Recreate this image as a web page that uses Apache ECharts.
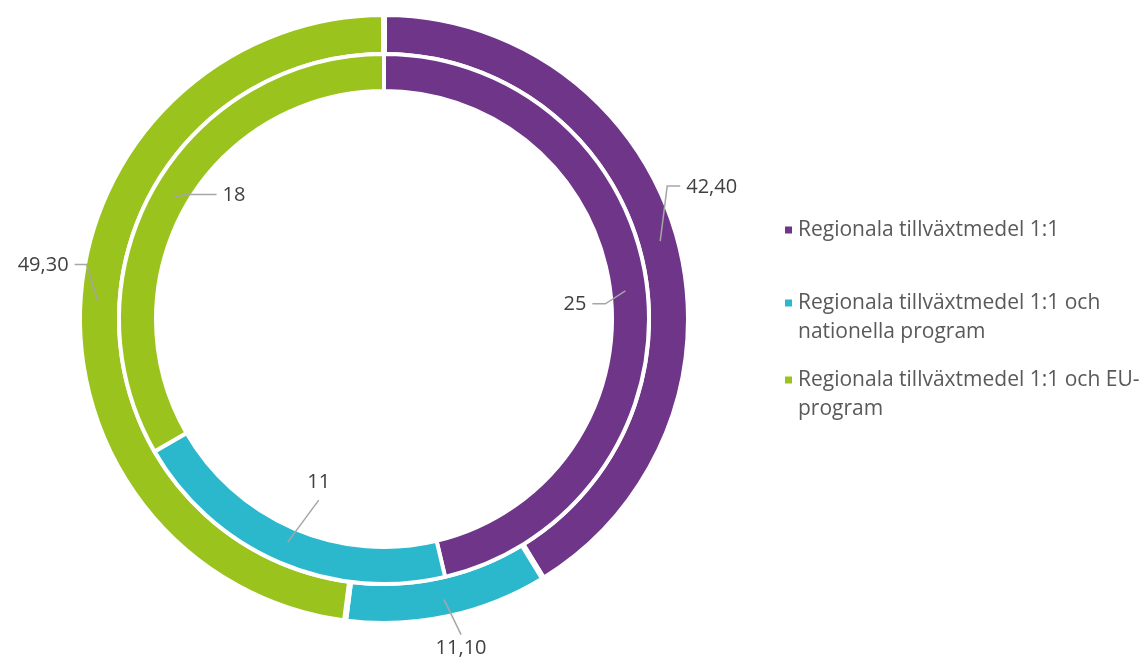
<!DOCTYPE html>
<html>
<head>
<meta charset="utf-8">
<script src="https://cdn.jsdelivr.net/npm/echarts@6/dist/echarts.min.js"></script>
<style>
    html, body { margin: 0; padding: 0; background: #fff; }
    #chart { width: 1145px; height: 662px; }
</style>
</head>
<body>
<div id="chart"></div>
<script>
    // data
    var categories = [
        'Regionala tillväxtmedel 1:1',
        'Regionala tillväxtmedel 1:1 och nationella program',
        'Regionala tillväxtmedel 1:1 och EU-program'
    ];
    // leading blank line keeps the marker level with the first text line
    var legendLabels = [
        'Regionala tillväxtmedel 1:1',
        ' \nRegionala tillväxtmedel 1:1 och\nnationella program',
        ' \nRegionala tillväxtmedel 1:1 och EU-\nprogram'
    ];
    var outerValues = [42.40, 11.10, 49.30];
    var innerValues = [25, 11, 18];
    var colors = ['#6E3589', '#2CB8CC', '#9BC31E'];

    // layout
    var CX = 384, CY = 319;
    var OUTER_R = [264, 305], INNER_R = [228, 265];
    var labelFont = 'Open Sans';
    // leader line shape per slice: bend offset, tail offset, label side
    var outerGuides = [
        {bend: [7, -55], tail: [13, 0], side: 'right'},
        {bend: [17, 35], tail: [0, 0], side: 'below'},
        {bend: [-11, -36], tail: [-12, 0], side: 'left'}
    ];
    var innerGuides = [
        {bend: [-20, 13], tail: [-13, 0], side: 'left'},
        {bend: [31, -42], tail: [0, 0], side: 'above'},
        {bend: [12, -3], tail: [31, 0], side: 'right'}
    ];

    function midAngles(vals) {
        var sum = vals.reduce(function (a, b) { return a + b; }, 0);
        var acc = 0;
        return vals.map(function (v) {
            var a = (acc + v / 2) / sum * Math.PI * 2;
            acc += v;
            return a;
        });
    }

    function makeLayout(vals, r, guides) {
        var angles = midAngles(vals);
        return function (params) {
            var i = params.dataIndex;
            var g = guides[i];
            var p0 = [CX + r * Math.sin(angles[i]), CY - r * Math.cos(angles[i])];
            var p1 = [p0[0] + g.bend[0], p0[1] + g.bend[1]];
            var p2 = [p1[0] + g.tail[0], p1[1] + g.tail[1]];
            var res = {labelLinePoints: [p0, p1, p2]};
            if (g.side === 'right') {
                res.x = p2[0] + 6; res.y = p2[1] + 1; res.align = 'left'; res.verticalAlign = 'middle';
            } else if (g.side === 'left') {
                res.x = p2[0] - 6; res.y = p2[1] + 1; res.align = 'right'; res.verticalAlign = 'middle';
            } else if (g.side === 'below') {
                res.x = p2[0]; res.y = p2[1] + 4; res.align = 'center'; res.verticalAlign = 'top';
            } else {
                res.x = p2[0]; res.y = p2[1] - 8; res.align = 'center'; res.verticalAlign = 'bottom';
            }
            return res;
        };
    }

    function toData(vals, see) {
        return vals.map(function (v, i) {
            return {name: categories[i], value: v, itemStyle: {color: see ? colors[i] : 'rgba(0,0,0,0)'}};
        });
    }

    // the ring itself, no labels
    function ring(name, radius, border, vals) {
        return {
            name: name,
            type: 'pie',
            z: 2,
            center: [CX, CY],
            radius: radius,
            startAngle: 90,
            clockwise: true,
            itemStyle: {borderColor: '#ffffff', borderWidth: border},
            label: {show: false},
            labelLine: {show: false},
            emphasis: {disabled: true},
            data: toData(vals, true)
        };
    }

    // invisible copy on top that carries the labels and leader lines
    function labels(name, radius, vals, r, guides, fmt) {
        return {
            name: name + '-labels',
            type: 'pie',
            z: 5,
            silent: true,
            center: [CX, CY],
            radius: radius,
            startAngle: 90,
            clockwise: true,
            avoidLabelOverlap: false,
            itemStyle: {borderWidth: 0},
            label: {
                show: true,
                position: 'outside',
                color: '#404040',
                fontFamily: labelFont,
                fontSize: 20,
                formatter: fmt
            },
            labelLine: {show: true, smooth: false, lineStyle: {color: '#A6A6A6', width: 1.5, opacity: 1}},
            labelLayout: makeLayout(vals, r, guides),
            emphasis: {disabled: true},
            data: toData(vals, false)
        };
    }

    var legendTops = [215.5, 259.5, 336.5];

    var chart = echarts.init(document.getElementById('chart'));
    var option = {
        backgroundColor: '#ffffff',
        animation: false,
        legend: categories.map(function (name, i) {
            return {
                data: [name],
                orient: 'vertical',
                left: 783,
                top: legendTops[i],
                padding: 0,
                icon: 'rect',
                itemWidth: 9,
                itemHeight: 9,
                selectedMode: false,
                formatter: function () { return legendLabels[i]; },
                textStyle: {
                    color: '#595959',
                    fontFamily: labelFont,
                    fontSize: 21,
                    lineHeight: 29
                }
            };
        }),
        series: [
            ring('outer', OUTER_R, 6, outerValues),
            ring('inner', INNER_R, 4, innerValues),
            labels('outer', OUTER_R, outerValues, 287, outerGuides, function (p) {
                return p.value.toFixed(2).replace('.', ',');
            }),
            labels('inner', INNER_R, innerValues, 243, innerGuides, function (p) {
                return String(p.value);
            })
        ]
    };
    chart.setOption(option);
</script>
</body>
</html>
